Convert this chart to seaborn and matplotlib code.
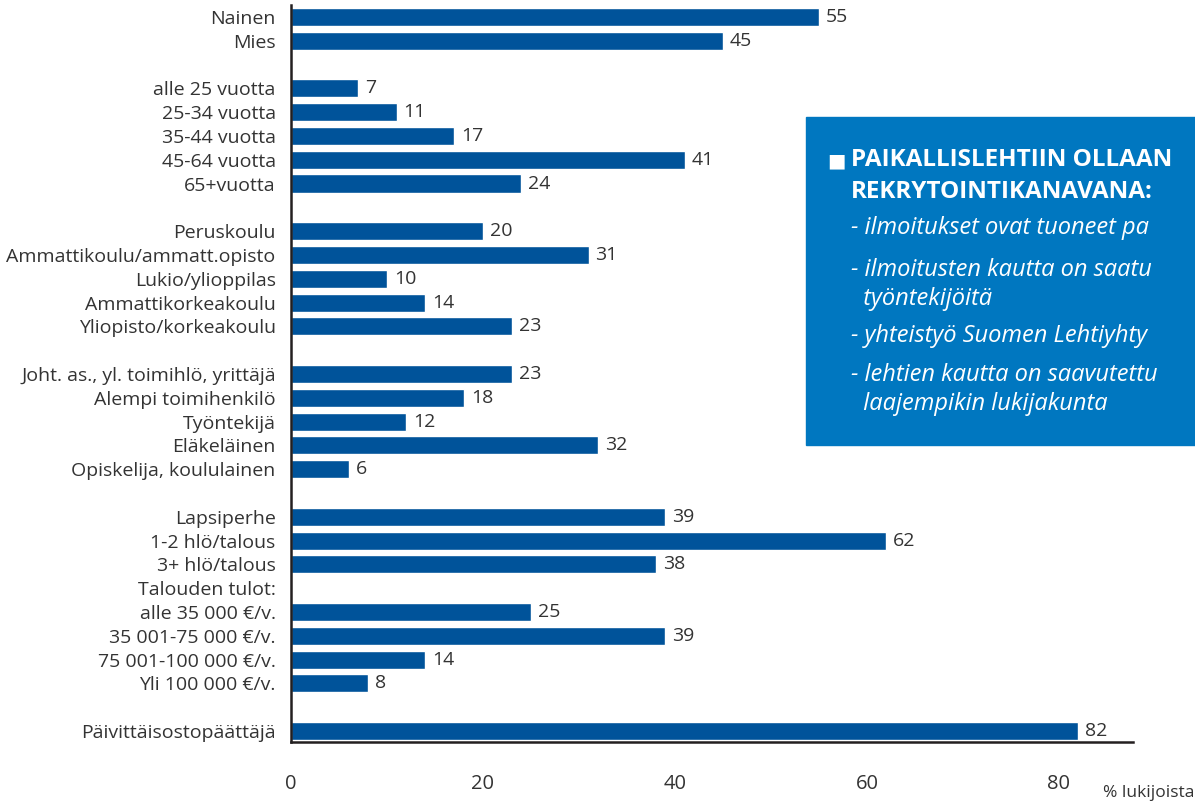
import matplotlib.pyplot as plt
import pandas as pd
import seaborn as sns
from matplotlib.patches import Rectangle

# rows from top to bottom; blank strings are spacer rows
ROW_LABELS = [
    "Nainen", "Mies", "",
    "alle 25 vuotta", "25-34 vuotta", "35-44 vuotta", "45-64 vuotta", "65+vuotta", " ",
    "Peruskoulu", "Ammattikoulu/ammatt.opisto", "Lukio/ylioppilas", "Ammattikorkeakoulu",
    "Yliopisto/korkeakoulu", "  ",
    "Joht. as., yl. toimihlö, yrittäjä", "Alempi toimihenkilö", "Työntekijä", "Eläkeläinen",
    "Opiskelija, koululainen", "   ",
    "Lapsiperhe", "1-2 hlö/talous", "3+ hlö/talous", "Talouden tulot:",
    "alle 35 000 €/v.", "35 001-75 000 €/v.", "75 001-100 000 €/v.", "Yli 100 000 €/v.", "    ",
    "Päivittäisostopäättäjä",
]
BAR_LABELS = [
    "Nainen", "Mies",
    "alle 25 vuotta", "25-34 vuotta", "35-44 vuotta", "45-64 vuotta", "65+vuotta",
    "Peruskoulu", "Ammattikoulu/ammatt.opisto", "Lukio/ylioppilas", "Ammattikorkeakoulu",
    "Yliopisto/korkeakoulu",
    "Joht. as., yl. toimihlö, yrittäjä", "Alempi toimihenkilö", "Työntekijä", "Eläkeläinen",
    "Opiskelija, koululainen",
    "Lapsiperhe", "1-2 hlö/talous", "3+ hlö/talous",
    "alle 35 000 €/v.", "35 001-75 000 €/v.", "75 001-100 000 €/v.", "Yli 100 000 €/v.",
    "Päivittäisostopäättäjä",
]
BAR_VALUES = [55, 45, 7, 11, 17, 41, 24, 20, 31, 10, 14, 23, 23, 18, 12, 32, 6,
              39, 62, 38, 25, 39, 14, 8, 82]
X_TICKS = [0, 20, 40, 60, 80]

# the box runs off the right edge of the picture, as in the original
BOX_TITLE = ["PAIKALLISLEHTIIN OLLAAN", "REKRYTOINTIKANAVANA:"]
BOX_LINES = [
    "- ilmoitukset ovat tuoneet pa",
    "- ilmoitusten kautta on saatu",
    "  työntekijöitä",
    "- yhteistyö Suomen Lehtiyhty",
    "- lehtien kautta on saavutettu",
    "  laajempikin lukijakunta",
]

BAR_COLOR = "#00539a"
BOX_COLOR = "#0077c0"
TEXT_COLOR = "#333333"
AXIS_COLOR = "#231f20"
FS = 14


def main():
    sns.set_style("white")
    plt.rcParams["font.family"] = ["Open Sans", "DejaVu Sans"]

    df = pd.DataFrame({"label": BAR_LABELS, "value": BAR_VALUES})

    fig = plt.figure(figsize=(11.95, 8.02), dpi=100)
    ax = fig.add_axes([0.2435, 0.0748, 0.7045, 0.9190])

    sns.barplot(ax=ax, data=df, y="label", x="value", order=ROW_LABELS,
                orient="h", color=BAR_COLOR, saturation=1, width=0.76)

    for cont in ax.containers:
        ax.bar_label(cont, padding=5, fontsize=FS, color=TEXT_COLOR)

    ax.set_xlim(0, 87.7)
    ax.set_ylim(len(ROW_LABELS) - 0.54, -0.5)
    ax.set_xticks(X_TICKS)
    ax.set_xlabel("")
    ax.set_ylabel("")
    ax.tick_params(axis="x", direction="in", length=4, width=1.2, color=AXIS_COLOR,
                   pad=23, labelsize=14.5, labelcolor=TEXT_COLOR)
    ax.tick_params(axis="y", length=0, pad=11, labelsize=FS, labelcolor=TEXT_COLOR)

    for side in ["top", "right"]:
        ax.spines[side].set_visible(False)
    for side in ["left", "bottom"]:
        ax.spines[side].set_color(AXIS_COLOR)
        ax.spines[side].set_linewidth(1.8)

    fig.text(1103 / 1195, 1 - 797 / 802, "% lukijoista", fontsize=12.5, color=TEXT_COLOR)

    fig.patches.append(Rectangle((806 / 1195, 1 - 445 / 802), 0.5, (445 - 117) / 802,
                                 transform=fig.transFigure, color=BOX_COLOR, zorder=5))
    fig.text(827 / 1195, 1 - 166 / 802, "■", fontsize=14, color="white", zorder=6)
    fig.text(851 / 1195, 1 - 166 / 802, BOX_TITLE[0], fontsize=17.5, color="white",
             fontweight="bold", zorder=6)
    fig.text(851 / 1195, 1 - 198 / 802, BOX_TITLE[1], fontsize=17.5, color="white",
             fontweight="bold", zorder=6)
    baselines = [234, 276, 305, 342, 381, 410]
    for line, yb in zip(BOX_LINES, baselines):
        fig.text(851 / 1195, 1 - yb / 802, line, fontsize=17, color="white",
                 style="italic", zorder=6)

    plt.savefig("out.png", dpi=100)
    plt.close()


if __name__ == "__main__":
    main()
